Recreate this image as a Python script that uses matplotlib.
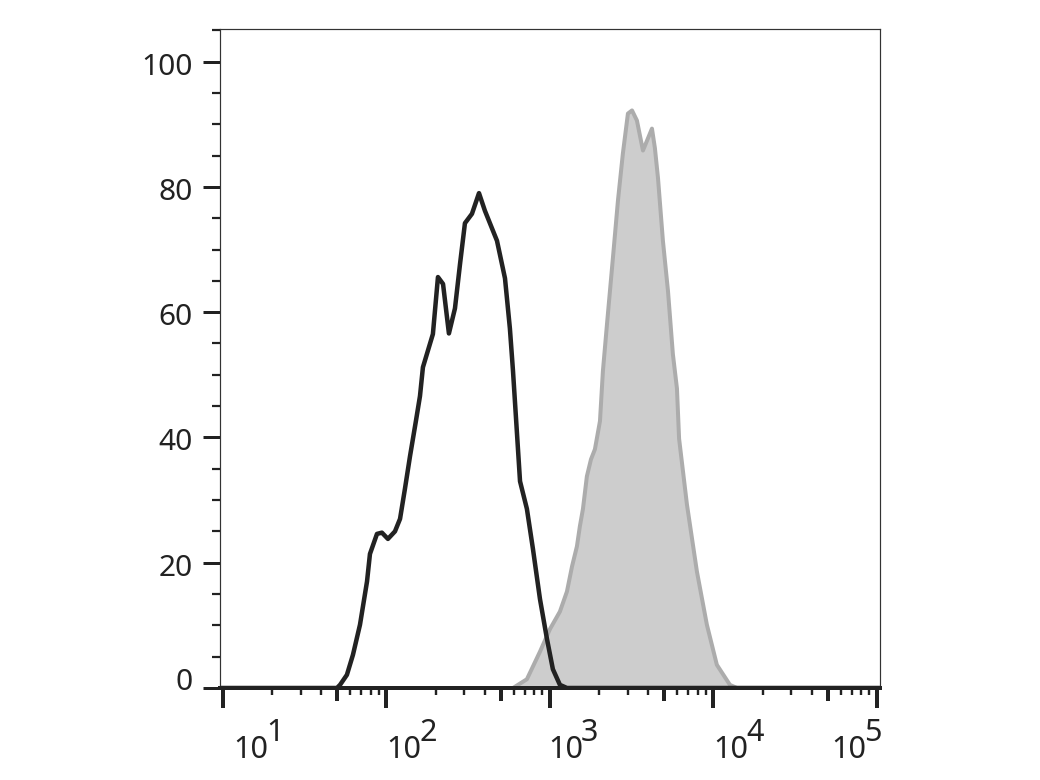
import numpy as np
import matplotlib
matplotlib.use("Agg")
import matplotlib.pyplot as plt
import matplotlib.transforms as mtransforms
from matplotlib.ticker import FixedLocator, NullFormatter

# ─────────────────────────────────────────────
# DATA  (x = log10 fluorescence, y = % of max)
# ─────────────────────────────────────────────
# isotype control — open black histogram
ctrl_log = [0.98, 1.697, 1.716, 1.758, 1.795, 1.838, 1.881, 1.899, 1.942, 1.972,
            2.009, 2.052, 2.083, 2.113, 2.144, 2.180, 2.205, 2.223, 2.284, 2.315,
            2.346, 2.382, 2.419, 2.450, 2.480, 2.523, 2.566, 2.602, 2.676, 2.725,
            2.755, 2.774, 2.817, 2.859, 2.896, 2.939, 2.982, 3.018, 3.061, 3.104,
            5.02]
ctrl_pct = [0.0, 0.0, 0.5, 2.1, 5.3, 10.1, 17.0, 21.4, 24.6, 24.8,
            23.8, 25.0, 27.0, 31.8, 37.0, 42.6, 46.6, 51.2, 56.5, 65.6,
            64.5, 56.6, 60.6, 67.7, 74.2, 75.7, 79.0, 76.2, 71.4, 65.4,
            57.4, 50.6, 33.0, 28.6, 22.2, 14.2, 7.8, 3.0, 0.5, 0.0,
            0.0]

# stained sample — filled grey histogram
stain_log = [2.774, 2.859, 2.939, 3.000, 3.061, 3.104, 3.135, 3.165, 3.183, 3.202,
             3.226, 3.251, 3.275, 3.306, 3.324, 3.349, 3.385, 3.416, 3.446, 3.477,
             3.502, 3.532, 3.569, 3.624, 3.642, 3.661, 3.691, 3.722, 3.752, 3.777,
             3.790, 3.838, 3.899, 3.960, 4.021, 4.101, 4.144]
stain_pct = [0.0, 1.4, 5.8, 9.4, 12.2, 15.4, 19.4, 22.6, 25.8, 28.6,
             33.8, 36.5, 38.1, 42.6, 50.6, 58.1, 68.6, 77.8, 85.3, 91.7,
             92.2, 90.6, 85.8, 89.3, 86.2, 81.4, 71.4, 63.4, 53.3, 47.8,
             39.8, 29.3, 18.6, 10.1, 3.7, 0.5, 0.0]

y_ticks = [0, 20, 40, 60, 80, 100]
decades = [1, 2, 3, 4, 5]

# label offsets in pixels (style only)
LABEL_DX = [10, 0, -2, 0, -46]

PX = 0.72   # points per pixel at dpi 100
INK = "#222222"
FONT = "Noto Sans"

fig = plt.figure(figsize=(10.4, 7.8), dpi=100)
ax = fig.add_axes([220 / 1040, (780 - 688) / 780, 660 / 1040, 659 / 780])

ax.set_xscale("log")
ax.set_xlim(10 ** 0.9817, 10 ** 5.019)
ax.set_ylim(0, 105.2)

# histograms
ax.fill_between(10 ** np.array(stain_log), stain_pct, 0,
                facecolor="#cdcdcd", edgecolor="none", zorder=1)
ax.plot(10 ** np.array(stain_log), stain_pct, color="#acacac",
        lw=4 * PX, zorder=1.5, solid_joinstyle="round")
ax.plot(10 ** np.array(ctrl_log), ctrl_pct, color=INK,
        lw=4.5 * PX, zorder=2, solid_joinstyle="round")

# spines
for side in ["top", "right", "left"]:
    ax.spines[side].set_linewidth(1.2 * PX)
    ax.spines[side].set_color("#333333")
ax.spines["bottom"].set_linewidth(4 * PX)
ax.spines["bottom"].set_color(INK)

# y axis
ax.yaxis.set_major_locator(FixedLocator(y_ticks))
ax.yaxis.set_minor_locator(FixedLocator(np.arange(0, 106, 5)))
ax.tick_params(axis="y", which="major", direction="out", length=17 * PX,
               width=3 * PX, color=INK, pad=10 * PX, labelsize=21.5,
               labelcolor=INK)
ax.tick_params(axis="y", which="minor", direction="out", length=8 * PX,
               width=2.2 * PX, color=INK)
for lab in ax.get_yticklabels():
    lab.set_fontfamily(FONT)

# "0" sits a little above its tick, the others slightly below
for tick in ax.yaxis.get_major_ticks():
    dy = 9 if tick.get_loc() == 0 else -2
    tick.label1.set_transform(tick.label1.get_transform() +
                              mtransforms.ScaledTranslation(0, dy / 100,
                                                            fig.dpi_scale_trans))

# x axis: decades long, 5x medium, rest short
minor_vals = [m * 10 ** d for d in range(0, 5) for m in [2, 3, 4, 6, 7, 8, 9]]
ax.xaxis.set_major_locator(FixedLocator([10 ** d for d in decades]))
ax.xaxis.set_minor_locator(FixedLocator(minor_vals))
ax.xaxis.set_major_formatter(NullFormatter())
ax.xaxis.set_minor_formatter(NullFormatter())
ax.tick_params(axis="x", which="major", direction="out", length=20 * PX,
               width=4 * PX, color=INK)
ax.tick_params(axis="x", which="minor", direction="out", length=7 * PX,
               width=2.4 * PX, color=INK)

sec = ax.secondary_xaxis("bottom")
sec.spines["bottom"].set_visible(False)
sec.xaxis.set_major_locator(FixedLocator([5 * 10 ** d for d in range(0, 5)]))
sec.xaxis.set_minor_locator(FixedLocator([]))
sec.xaxis.set_major_formatter(NullFormatter())
sec.tick_params(axis="x", which="major", direction="out", length=13 * PX,
                width=4 * PX, color=INK)

# decade labels "10" with raised exponent
for d, dx in zip(decades, LABEL_DX):
    ax.annotate("10", xy=(10 ** d, 0), xycoords=("data", "axes fraction"),
                xytext=(dx, -70), textcoords="offset pixels",
                ha="left", va="baseline", fontsize=22, color=INK,
                family=FONT, annotation_clip=False)
    ax.annotate(str(d), xy=(10 ** d, 0), xycoords=("data", "axes fraction"),
                xytext=(dx + 33, -53), textcoords="offset pixels",
                ha="left", va="baseline", fontsize=22, color=INK,
                family=FONT, annotation_clip=False)

fig.savefig("out.png", dpi=100)
